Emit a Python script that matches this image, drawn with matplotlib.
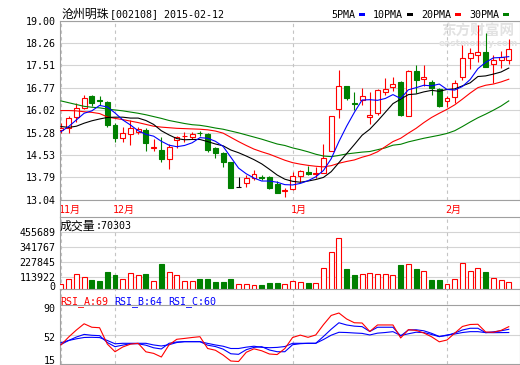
import numpy as np
import matplotlib
matplotlib.use('Agg')
import matplotlib.pyplot as plt
from matplotlib.patches import Rectangle
from matplotlib.lines import Line2D
from matplotlib import transforms

plt.rcParams['font.family'] = ['DejaVu Sans Mono', 'Noto Sans CJK SC']
plt.rcParams['font.size'] = 7.2

# ---- data (59 trading days, 2014-11-20 .. 2015-02-12) ----
opens = [15.38, 15.42, 15.81, 16.11, 16.50, 16.36, 16.31, 15.53, 15.09, 15.23,
         15.30, 15.37, 14.77, 14.70, 14.39, 15.03, 15.15, 15.12, 15.27, 15.22,
         14.76, 14.59, 14.31, 13.46, 13.59, 13.78, 13.81, 13.81, 13.57, 13.35,
         13.39, 13.84, 13.96, 13.89, 13.93, 14.67, 16.05, 16.81, 16.27, 16.36,
         15.79, 15.94, 16.64, 16.79, 16.97, 15.84, 17.33, 17.06, 16.97, 16.73,
         16.33, 16.47, 17.11, 17.77, 17.84, 17.95, 17.55, 17.69, 17.69]
closes = [15.42, 15.76, 16.11, 16.42, 16.27, 16.33, 15.53, 15.11, 15.26, 15.42,
          15.39, 14.94, 14.80, 14.39, 14.79, 15.12, 15.17, 15.23, 15.25, 14.70,
          14.61, 14.31, 13.43, 13.46, 13.76, 13.90, 13.78, 13.43, 13.28, 13.38,
          13.84, 14.00, 13.89, 13.92, 14.43, 15.83, 16.83, 16.42, 16.24, 16.50,
          15.87, 16.70, 16.72, 16.89, 15.87, 17.33, 17.03, 17.14, 16.77, 16.17,
          16.44, 16.92, 17.75, 17.92, 17.97, 17.47, 17.69, 17.80, 18.06]
highs = [15.59, 15.83, 16.27, 16.53, 16.52, 16.50, 16.33, 15.61, 15.48, 15.70,
         15.48, 15.42, 15.07, 15.12, 14.90, 15.17, 15.31, 15.29, 15.33, 15.26,
         14.81, 14.64, 14.31, 13.79, 13.87, 14.04, 13.87, 13.84, 13.68, 13.43,
         13.98, 14.04, 14.17, 14.15, 14.89, 15.83, 17.34, 16.83, 16.61, 16.75,
         16.64, 16.72, 17.09, 17.14, 16.99, 17.36, 17.53, 17.53, 17.03, 16.77,
         16.50, 17.03, 18.17, 18.08, 18.86, 18.58, 17.86, 17.99, 18.39]
lows = [15.27, 15.28, 15.64, 16.05, 16.16, 16.20, 15.48, 14.98, 14.98, 14.87,
        15.23, 14.68, 14.68, 14.31, 14.06, 14.76, 14.98, 15.06, 15.17, 14.65,
        14.43, 14.13, 13.43, 13.46, 13.48, 13.70, 13.70, 13.39, 13.26, 13.13,
        13.37, 13.65, 13.87, 13.76, 13.93, 14.67, 15.76, 16.36, 16.03, 16.20,
        15.57, 15.87, 16.53, 16.67, 15.84, 15.82, 16.59, 16.81, 16.53, 16.14,
        16.14, 16.25, 17.03, 17.39, 17.62, 17.44, 16.92, 17.42, 17.55]

ma5 = [15.31, 15.48, 15.70, 15.92, 16.00, 16.18, 16.13, 15.93, 15.70, 15.53,
       15.34, 15.22, 15.16, 14.99, 14.86, 14.81, 14.85, 14.94, 15.11, 15.09,
       14.99, 14.82, 14.46, 14.10, 13.91, 13.77, 13.67, 13.67, 13.63, 13.55,
       13.54, 13.59, 13.68, 13.81, 14.02, 14.41, 14.98, 15.49, 15.95, 16.36,
       16.37, 16.35, 16.41, 16.54, 16.41, 16.70, 16.77, 16.85, 16.83, 16.89,
       16.71, 16.69, 16.81, 17.04, 17.40, 17.61, 17.76, 17.77, 17.80]
ma10 = [15.48, 15.45, 15.49, 15.59, 15.67, 15.73, 15.78, 15.79, 15.79, 15.76,
        15.76, 15.68, 15.55, 15.34, 15.20, 15.08, 15.04, 15.05, 15.05, 14.98,
        14.90, 14.84, 14.70, 14.61, 14.50, 14.38, 14.24, 14.06, 13.87, 13.73,
        13.66, 13.63, 13.67, 13.72, 13.79, 13.98, 14.28, 14.58, 14.88, 15.19,
        15.39, 15.66, 15.95, 16.24, 16.39, 16.54, 16.56, 16.63, 16.68, 16.65,
        16.71, 16.73, 16.83, 16.93, 17.14, 17.16, 17.22, 17.29, 17.42]
ma20 = [16.01, 16.01, 16.00, 15.97, 15.95, 15.91, 15.80, 15.75, 15.71, 15.66,
        15.61, 15.55, 15.49, 15.46, 15.44, 15.42, 15.41, 15.40, 15.39, 15.37,
        15.33, 15.26, 15.12, 14.98, 14.85, 14.73, 14.64, 14.56, 14.46, 14.36,
        14.28, 14.23, 14.19, 14.16, 14.14, 14.18, 14.26, 14.32, 14.37, 14.46,
        14.53, 14.64, 14.81, 14.98, 15.09, 15.26, 15.42, 15.61, 15.78, 15.92,
        16.05, 16.20, 16.39, 16.59, 16.77, 16.85, 16.89, 16.96, 17.05]
ma30 = [16.33, 16.27, 16.21, 16.15, 16.12, 16.10, 16.06, 16.03, 16.00, 15.96,
        15.92, 15.87, 15.81, 15.75, 15.68, 15.63, 15.58, 15.54, 15.52, 15.48,
        15.43, 15.39, 15.33, 15.27, 15.20, 15.13, 15.06, 14.98, 14.90, 14.85,
        14.77, 14.71, 14.64, 14.56, 14.50, 14.48, 14.52, 14.57, 14.60, 14.63,
        14.65, 14.71, 14.77, 14.86, 14.89, 14.97, 15.03, 15.09, 15.14, 15.19,
        15.25, 15.34, 15.48, 15.63, 15.77, 15.89, 16.02, 16.16, 16.33]

volumes = [58500, 96500, 134400, 109400, 88900, 81300, 151900, 126800, 94200, 139800,
           126800, 134400, 81300, 210400, 147300, 126800, 83600, 81300, 94200, 94200,
           73700, 73700, 94200, 56200, 56200, 50900, 50900, 68400, 68400, 56200,
           81300, 71400, 68400, 63800, 177700, 299200, 405600, 172400, 126800, 132200,
           139800, 132200, 132200, 124600, 202800, 210400, 172400, 159500, 88900, 88900,
           58500, 94200, 215700, 157200, 177700, 147300, 101800, 88900, 70303]

rsi_a = [39.2, 49.3, 58.2, 66.1, 61.7, 61.1, 40.4, 30.6, 36.6, 40.2,
         41.3, 30.5, 28.5, 23.9, 39.4, 46.4, 47.5, 48.7, 49.7, 34.7,
         32.5, 26.4, 18.8, 18.2, 29.9, 34.3, 31.8, 27.7, 27.0, 34.7,
         48.7, 51.7, 48.9, 51.9, 65.0, 76.7, 79.8, 72.2, 67.4, 67.1,
         56.3, 64.6, 64.6, 64.6, 48.1, 58.6, 57.7, 54.4, 49.6, 43.2,
         45.5, 54.2, 62.7, 65.2, 65.5, 55.7, 55.3, 57.7, 62.4]
rsi_b = [39.8, 44.9, 49.3, 52.6, 51.5, 51.0, 42.3, 37.0, 39.0, 40.8,
         40.7, 38.9, 35.6, 34.1, 41.3, 43.0, 43.4, 43.4, 43.4, 38.9,
         37.2, 33.9, 28.0, 27.3, 33.2, 36.1, 37.0, 32.8, 30.6, 30.6,
         39.5, 40.8, 41.3, 41.3, 50.0, 59.2, 67.4, 64.6, 63.1, 62.5,
         56.3, 61.7, 61.7, 61.7, 50.6, 58.3, 58.5, 57.2, 54.0, 50.0,
         51.2, 54.4, 58.2, 60.4, 60.4, 54.8, 55.9, 57.2, 59.1]
rsi_c = [42.0, 44.9, 47.0, 48.7, 48.9, 48.6, 44.9, 40.7, 41.3, 41.3,
         41.3, 41.3, 39.2, 37.9, 39.5, 42.3, 43.4, 43.4, 43.4, 41.2,
         39.2, 37.6, 34.7, 34.7, 36.4, 37.6, 36.2, 35.7, 36.1, 37.2,
         41.3, 41.3, 41.3, 41.3, 46.1, 51.6, 55.3, 55.0, 54.4, 53.9,
         51.9, 54.2, 55.0, 56.1, 51.2, 53.4, 55.4, 54.9, 52.5, 49.7,
         51.9, 53.1, 55.0, 56.1, 56.1, 54.9, 54.8, 54.9, 55.0]

price_ticks = [13.04, 13.79, 14.53, 15.28, 16.02, 16.77, 17.51, 18.26, 19.00]
vol_ticks = [113922, 227845, 341767, 455689]
month_idx = [0, 7, 30, 50]
month_labels = ['11月', '12月', '1月', '2月']

RED = '#ff0000'
GREEN = '#008000'
BLUE = '#0000ff'
GRID = '#d4d4d4'
FRAME = '#a0a0a0'
DASH = '#c4c4c4'

W, H = 520, 365
fig = plt.figure(figsize=(W / 100, H / 100), dpi=100)
fig.patch.set_facecolor('white')


def box(left, top, right, bottom):
    return [left / W, 1 - bottom / H, (right - left) / W, (bottom - top) / H]


def label(x, y, s, color='black'):
    # ascii in a 6px mono cell, CJK in a 12px cell, like the bitmap font of the original
    runs = []
    for ch in s:
        cjk = ord(ch) > 0x2e80
        if runs and runs[-1][0] == cjk:
            runs[-1][1] += ch
        else:
            runs.append([cjk, ch])
    for cjk, txt in runs:
        if cjk:
            fig.text(x / W, 1 - y / H, txt, fontsize=8.6, family='Noto Sans CJK SC',
                     color=color, va='baseline')
            x += 12 * len(txt)
        else:
            fig.text(x / W, 1 - y / H, txt, fontsize=7.2, family='DejaVu Sans Mono',
                     color=color, va='baseline')
            x += 6 * len(txt)


ax = fig.add_axes(box(59.5, 20.5, 519.5, 200))
ax_vol = fig.add_axes(box(59.5, 216.7, 519.5, 289))
ax_rsi = fig.add_axes(box(59.5, 289, 519.5, 364))

x = np.arange(len(closes))
o = np.array(opens)
c = np.array(closes)

colors = [RED if cc > oo else (GREEN if cc < oo else 'black') for oo, cc in zip(opens, closes)]
faces = ['white' if col == RED else col for col in colors]

for a in (ax, ax_vol, ax_rsi):
    a.set_xlim(-0.19, 59.39)
    a.set_xticks([])
    a.tick_params(axis='y', length=0, pad=3, labelsize=7.2)
    for sp in a.spines.values():
        sp.set_color(FRAME)
        sp.set_linewidth(0.8)
    for m in month_idx:
        a.axvline(m, color=DASH, lw=0.8, ls=(0, (3, 3)), zorder=1)

# ---- price panel ----
ax.set_ylim(13.04, 19.0)
ax.set_yticks(price_ticks)
ax.set_yticklabels(['%.2f' % p for p in price_ticks])
for p in price_ticks:
    ax.axhline(p, color=GRID, lw=0.8, zorder=0.5)

ax.text(478 / W, 1 - 36 / H, '东方财富网', transform=fig.transFigure, ha='center',
        va='baseline', fontsize=10.5, fontweight='bold', family='Noto Sans CJK SC',
        color='#e2e2e2', zorder=0.6)
ax.text(478 / W, 1 - 46 / H, 'eastmoney.com', transform=fig.transFigure, ha='center',
        va='baseline', fontsize=6.5, fontweight='bold', family='DejaVu Sans',
        color='#e2e2e2', zorder=0.6)

ax.vlines(x, lows, highs, colors=colors, lw=0.8, zorder=2)
ax.bar(x, np.maximum(np.abs(c - o), 0.006), bottom=np.minimum(o, c), width=0.64,
       color=faces, edgecolor=colors, linewidth=0.8, zorder=3)

ax.plot(x, ma30, color=GREEN, lw=0.8, zorder=4)
ax.plot(x, ma20, color=RED, lw=0.8, zorder=4)
ax.plot(x, ma10, color='black', lw=0.8, zorder=4)
ax.plot(x, ma5, color=BLUE, lw=0.8, zorder=4)

month_tr = transforms.offset_copy(
    transforms.blended_transform_factory(ax.transData, ax.transAxes),
    fig=fig, x=-2, y=0, units='dots')
for m, lab in zip(month_idx, month_labels):
    ax.text(m, -13 / 179.5, lab, transform=month_tr, color=RED, va='baseline',
            ha='left', fontsize=7.2, clip_on=False)

# left frame line through the month band
fig.add_artist(Line2D([59.5 / W, 59.5 / W], [1 - 200 / H, 1 - 216.7 / H],
                      color=FRAME, lw=0.8))

# ---- title and legend ----
label(62, 17.5, '沧州明珠[002108] 2015-02-12')
lx = 331
for name, col in [('5PMA', BLUE), ('10PMA', 'black'), ('20PMA', RED), ('30PMA', GREEN)]:
    label(lx, 17.5, name)
    lx += 6 * len(name) + 4
    fig.add_artist(Rectangle((lx / W, 1 - 15.5 / H), 6 / W, 3 / H,
                             transform=fig.transFigure, color=col, lw=0))
    lx += 6 + 8

# ---- volume panel ----
vol_colors = [RED if cc >= oo else GREEN for oo, cc in zip(opens, closes)]
vol_faces = ['white' if col == RED else col for col in vol_colors]
ax_vol.set_ylim(20500, 569600)
for v in vol_ticks:
    ax_vol.axhline(v, color=GRID, lw=0.8, zorder=0.5)
ax_vol.set_yticks([43300] + vol_ticks)
ax_vol.set_yticklabels(['0'] + [str(v) for v in vol_ticks])
ax_vol.bar(x, volumes, width=0.64, color=vol_faces, edgecolor=vol_colors,
           linewidth=0.8, zorder=3)
label(60, 229.3, '成交量:%d' % volumes[-1])

# ---- RSI panel ----
ax_rsi.set_ylim(15, 110.3)
ax_rsi.axhline(90, color=FRAME, lw=0.8, zorder=0.5)
ax_rsi.axhline(52, color=GRID, lw=0.8, zorder=0.5)
ax_rsi.set_yticks([20.1, 49.7, 86.6])
ax_rsi.set_yticklabels(['15', '52', '90'])
ax_rsi.plot(x, rsi_c, color=BLUE, lw=0.8, zorder=3)
ax_rsi.plot(x, rsi_b, color=BLUE, lw=0.8, zorder=3)
ax_rsi.plot(x, rsi_a, color=RED, lw=0.8, zorder=4)
label(60, 304, 'RSI_A:69', RED)
label(114, 304, 'RSI_B:64', BLUE)
label(168, 304, 'RSI_C:60', BLUE)

fig.savefig('out.png', dpi=100, facecolor='white')
